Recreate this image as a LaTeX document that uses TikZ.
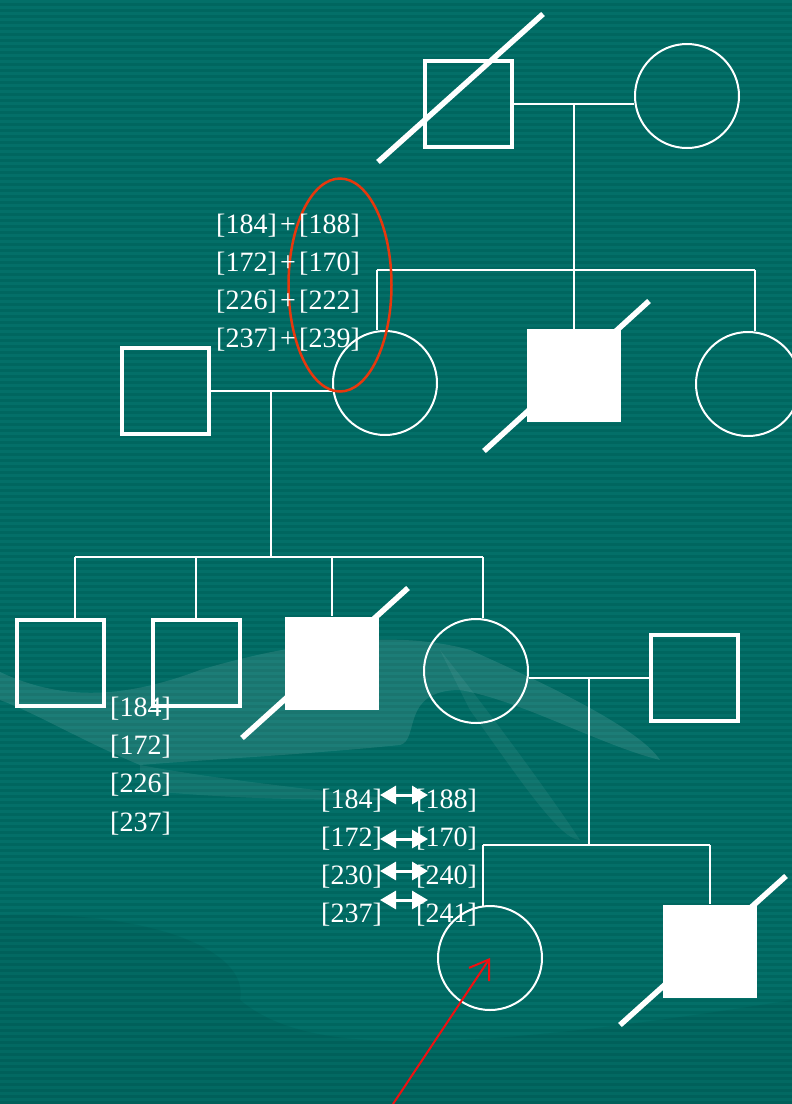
\documentclass[tikz,border=0pt]{standalone}
\usepackage{fontspec}
\setmainfont{Liberation Serif}
\usetikzlibrary{arrows.meta,calc,shapes.geometric}
\definecolor{bg}{HTML}{00665F}
\definecolor{stripe}{HTML}{036F68}
\definecolor{ovalred}{HTML}{E8380D}
\definecolor{arrred}{HTML}{F01010}
\begin{document}
\begin{tikzpicture}[x=1pt,y=-1pt,
  male/.style={draw=white,line width=4pt,minimum width=87pt,minimum height=86pt,inner sep=0pt},
  affm/.style={fill=white,draw=none,minimum width=94pt,minimum height=93pt,inner sep=0pt},
  female/.style={circle,draw=white,line width=2pt,minimum size=104pt,inner sep=0pt},
  conn/.style={draw=white,line width=2pt},
  slash/.style={draw=white,line width=5.5pt},
  lbl/.style={text=white,font=\fontsize{28}{30}\selectfont,inner sep=0pt},
  dbl/.style={draw=white,line width=3pt,{Triangle[length=16pt,width=18pt]}-{Triangle[length=16pt,width=18pt]}}
]
\useasboundingbox (0,0) rectangle (792,1104);
% background
\fill[bg] (0,0) rectangle (792,1104);
\foreach \y in {0,6,...,1100} \fill[stripe] (0,\y) rectangle (792,\y+3);
% faint decorative shapes
\fill[white,opacity=0.10] (0,672) .. controls (60,700) and (120,700) .. (200,670)
  .. controls (300,640) and (400,630) .. (470,650) .. controls (560,690) and (640,730) .. (660,760)
  .. controls (600,745) and (520,700) .. (460,690) .. controls (400,690) and (420,740) .. (400,745)
  .. controls (300,755) and (200,760) .. (140,765) .. controls (80,740) and (40,715) .. (0,700) -- cycle;
\fill[white,opacity=0.07] (140,765) .. controls (220,780) and (320,790) .. (400,800)
  .. controls (330,800) and (240,800) .. (140,790) -- cycle;
\fill[white,opacity=0.06] (440,650) .. controls (480,700) and (540,780) .. (580,840)
  .. controls (560,840) and (520,780) .. (470,710) -- cycle;
\fill[black,opacity=0.05] (0,915) .. controls (150,910) and (250,950) .. (240,1000)
  .. controls (300,1050) and (420,1060) .. (792,1000) -- (792,1104) -- (0,1104) -- cycle;

% Generation I
\node[male] (g1m) at (468,103.5) {};
\node[female] (g1f) at (687,96) {};
\draw[slash] ($(g1m)+(-90,58.5)$) -- ($(g1m)+(75,-89.5)$);
\coordinate (m1) at (574,103);
\coordinate (s1) at (574,270);
\coordinate (s1L) at (377,270);
\coordinate (s1R) at (755,270);
\draw[conn] (g1m.east) -- (g1m.east -| g1f.west);
\draw[conn] (m1) -- (s1);
\draw[conn] (s1L) -- (s1R);

% Generation II
\node[female] (g2f1) at (385,383) {};
\node[affm] (g2a) at (574,375.5) {};
\node[female] (g2f2) at (748,384) {};
\node[male] (g2m) at (165.5,391) {};
\draw[slash] ($(g2a)+(-90,75.5)$) -- ($(g2a)+(75,-74.5)$);
\draw[conn] (s1L) -- (s1L |- g2f1.north);
\draw[conn] (s1) -- (g2a.north);
\draw[conn] (s1R) -- (s1R |- g2f2.north);
\draw[conn] (g2m.east) -- (g2m.east -| g2f1.west);
\coordinate (m2) at (271,391);
\coordinate (s2) at (271,557);
\coordinate (s2L) at (75,557);
\coordinate (s2R) at (483,557);
\draw[conn] (m2) -- (s2);
\draw[conn] (s2L) -- (s2R);

% Generation III
\node[male] (g3a) at (60,662.5) {};
\node[male] (g3b) at (196,662.5) {};
\node[affm] (g3c) at (332,663) {};
\node[female] (g3d) at (476,671) {};
\node[male] (g3s) at (694.5,677.5) {};
\draw[slash] ($(g3c)+(-90,75)$) -- ($(g3c)+(76,-75)$);
\draw[conn] (s2L) -- (s2L |- g3a.north);
\draw[conn] (196,557) -- (g3b.north);
\draw[conn] (332,557) -- (g3c.north);
\draw[conn] (s2R) -- (s2R |- g3d.north);
\draw[conn] (g3s.west) -- (g3s.west -| g3d.east);
\coordinate (m3) at (589,678);
\coordinate (s3) at (589,845);
\coordinate (s3L) at (483,845);
\coordinate (s3R) at (710,845);
\draw[conn] (m3) -- (s3);
\draw[conn] (s3L) -- (s3R);

% Generation IV
\node[female] (g4f) at (490,958) {};
\node[affm] (g4m) at (710,951) {};
\draw[slash] ($(g4m)+(-90,74)$) -- ($(g4m)+(76,-75)$);
\draw[conn] (s3L) -- (s3L |- 0,906);
\draw[conn] (s3R) -- (g4m.north);

% red oval
\node[ellipse,draw=ovalred,line width=2.5pt,minimum width=103pt,minimum height=213pt,inner sep=0pt] (oval) at (340,285) {};

% labels block 1
\foreach \a/\b/\y [count=\i] in {184/188/226,172/170/264,226/222/302,237/239/340}{
  \node[lbl,anchor=west] (ta\i) at (216,\y) {[\a]};
  \node[lbl] (tp\i) at (288,\y) {+};
  \node[lbl,anchor=west] (tb\i) at (299,\y) {[\b]};
}
% labels block 2
\foreach \a/\y [count=\i] in {184/709,172/747,226/785,237/824}{
  \node[lbl,anchor=west] (tc\i) at (110,\y) {[\a]};
}
% labels block 3
\foreach \a/\b/\y/\ay [count=\i] in {184/188/801/795,172/170/839/839,230/240/877/871,237/241/915/900}{
  \node[lbl,anchor=west] (td\i) at (321,\y) {[\a]};
  \node[lbl,anchor=west] (te\i) at (416,\y) {[\b]};
  \coordinate (al\i) at (380,\ay);
  \coordinate (ar\i) at (428,\ay);
  \draw[dbl] (al\i) -- (ar\i);
}

% red arrow
\coordinate (arrs) at (393,1104);
\draw[draw=arrred,line width=2pt,-{Straight Barb[length=18pt,width=24pt]}] (arrs) -- (g4f.center);
\end{tikzpicture}
\end{document}
